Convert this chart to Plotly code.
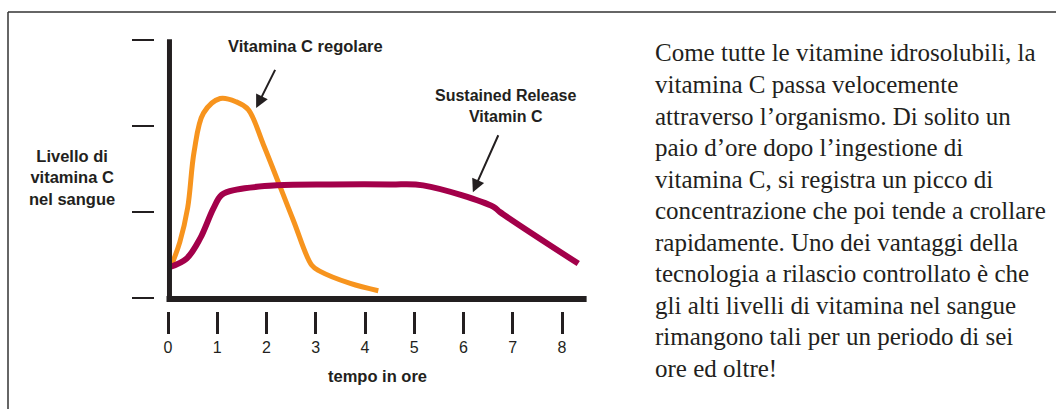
import plotly.graph_objects as go

# Blood level of vitamin C over time (hours after intake)
hours_regular = [0.07, 0.24, 0.40, 0.53, 0.72, 1.06, 1.39, 1.63, 1.94, 2.54, 2.92, 3.09, 3.70, 4.27]
level_regular = [0.38, 0.65, 1.05, 1.70, 2.15, 2.32, 2.28, 2.19, 1.78, 0.91, 0.38, 0.31, 0.17, 0.085]

hours_sustained = [0.04, 0.38, 0.65, 0.92, 1.09, 1.39, 2.21, 3.30, 4.51, 5.18, 6.61, 6.74, 8.33]
level_sustained = [0.36, 0.46, 0.69, 1.04, 1.20, 1.26, 1.31, 1.32, 1.32, 1.31, 1.06, 1.00, 0.40]

hour_ticks = [0, 1, 2, 3, 4, 5, 6, 7, 8]
level_ticks = [0, 1, 2, 3]

y_title_lines = ["Livello di", "vitamina C", "nel sangue"]
x_title = "tempo in ore"
label_regular = "Vitamina C regolare"
label_sustained = "Sustained Release<br>Vitamin C"

body_lines = [
    "Come tutte le vitamine idrosolubili, la",
    "vitamina C passa velocemente",
    "attraverso l\u2019organismo. Di solito un",
    "paio d\u2019ore dopo l\u2019ingestione di",
    "vitamina C, si registra un picco di",
    "concentrazione che poi tende a crollare",
    "rapidamente. Uno dei vantaggi della",
    "tecnologia a rilascio controllato \u00e8 che",
    "gli alti livelli di vitamina nel sangue",
    "rimangono tali per un periodo di sei",
    "ore ed oltre!",
]

ORANGE = "#F7941E"
CRIMSON = "#A3004A"
INK = "#231F20"
SANS = "Liberation Sans, Arial, Helvetica, sans-serif"
SERIF = "Liberation Serif, Times New Roman, serif"

W, H = 1056, 409
L, R, T, B = 155, 456, 30, 98
plot_w = W - L - R
plot_h = H - T - B


def px_x(p):
    return (p - L) / plot_w


def px_y(p):
    return (H - B - p) / plot_h


fig = go.Figure()

fig.add_trace(go.Scatter(
    x=hours_regular, y=level_regular, mode="lines",
    line=dict(color=ORANGE, width=5, shape="spline", smoothing=1.0),
    hoverinfo="skip", showlegend=False,
))
fig.add_trace(go.Scatter(
    x=hours_sustained, y=level_sustained, mode="lines",
    line=dict(color=CRIMSON, width=6, shape="spline", smoothing=1.0),
    hoverinfo="skip", showlegend=False,
))

shapes = [
    # vertical axis bar
    dict(type="line", xref="x", yref="y", x0=0.03, x1=0.03, y0=-0.04, y1=3.01,
         line=dict(color=INK, width=5)),
    # horizontal axis bar
    dict(type="line", xref="x", yref="y", x0=-0.03, x1=8.5, y0=-0.012, y1=-0.012,
         line=dict(color=INK, width=6)),
    # outer frame
    dict(type="line", xref="paper", yref="paper", x0=px_x(8), x1=px_x(1056), y0=px_y(12), y1=px_y(12),
         line=dict(color="#333333", width=1.5)),
    dict(type="line", xref="paper", yref="paper", x0=px_x(8), x1=px_x(8), y0=px_y(12), y1=px_y(409),
         line=dict(color="#333333", width=1.5)),
]

annotations = []
# y axis title
annotations.append(dict(
    xref="paper", yref="paper", x=px_x(72), y=px_y(177.5), xanchor="center", yanchor="middle",
    text="<b>" + "<br>".join(y_title_lines) + "</b>", showarrow=False,
    font=dict(family=SANS, size=16.5, color=INK), align="center",
))
# x axis title
annotations.append(dict(
    xref="paper", yref="paper", x=px_x(377), y=px_y(376), xanchor="center", yanchor="middle",
    text="<b>" + x_title + "</b>", showarrow=False,
    font=dict(family=SANS, size=16.5, color=INK),
))
# series labels
annotations.append(dict(
    xref="paper", yref="paper", x=px_x(305), y=px_y(46), xanchor="center", yanchor="middle",
    text="<b>" + label_regular + "</b>", showarrow=False,
    font=dict(family=SANS, size=16.5, color=INK),
))
annotations.append(dict(
    xref="paper", yref="paper", x=px_x(506), y=px_y(106), xanchor="center", yanchor="middle",
    text="<b>" + label_sustained + "</b>", showarrow=False, align="center",
    font=dict(family=SANS, size=16, color=INK),
))
# pointer arrows
annotations.append(dict(
    xref="x", yref="y", axref="x", ayref="y", x=1.79, y=2.21, ax=2.19, ay=2.67,
    text="", showarrow=True, arrowhead=2, arrowsize=1.3, arrowwidth=2, arrowcolor=INK,
))
annotations.append(dict(
    xref="x", yref="y", axref="x", ayref="y", x=6.19, y=1.23, ax=6.72, ay=1.91,
    text="", showarrow=True, arrowhead=2, arrowsize=1.3, arrowwidth=2, arrowcolor=INK,
))
# body text
line_y0, line_step = 53, 31.5
for i, line in enumerate(body_lines):
    annotations.append(dict(
        xref="paper", yref="paper", x=px_x(653), y=px_y(line_y0 + i * line_step),
        xanchor="left", yanchor="middle", text=line, showarrow=False,
        font=dict(family=SERIF, size=25, color=INK),
    ))

x_lo = -13 / 49.25
y_lo = -13 / 86

fig.update_layout(
    width=W, height=H,
    margin=dict(l=L, r=R, t=T, b=B),
    paper_bgcolor="white", plot_bgcolor="white",
    shapes=shapes, annotations=annotations,
    xaxis=dict(
        range=[x_lo, x_lo + plot_w / 49.25], tickvals=hour_ticks,
        ticktext=[str(h) for h in hour_ticks],
        ticks="outside", ticklen=22, tickwidth=2.5, tickcolor=INK,
        showline=False, showgrid=False, zeroline=False,
        tickfont=dict(family=SANS, size=16, color=INK),
    ),
    yaxis=dict(
        range=[y_lo, y_lo + plot_h / 86], tickvals=level_ticks,
        ticks="outside", ticklen=22, tickwidth=2, tickcolor=INK,
        showticklabels=False, showline=False, showgrid=False, zeroline=False,
    ),
)

fig.write_html("out.html")
